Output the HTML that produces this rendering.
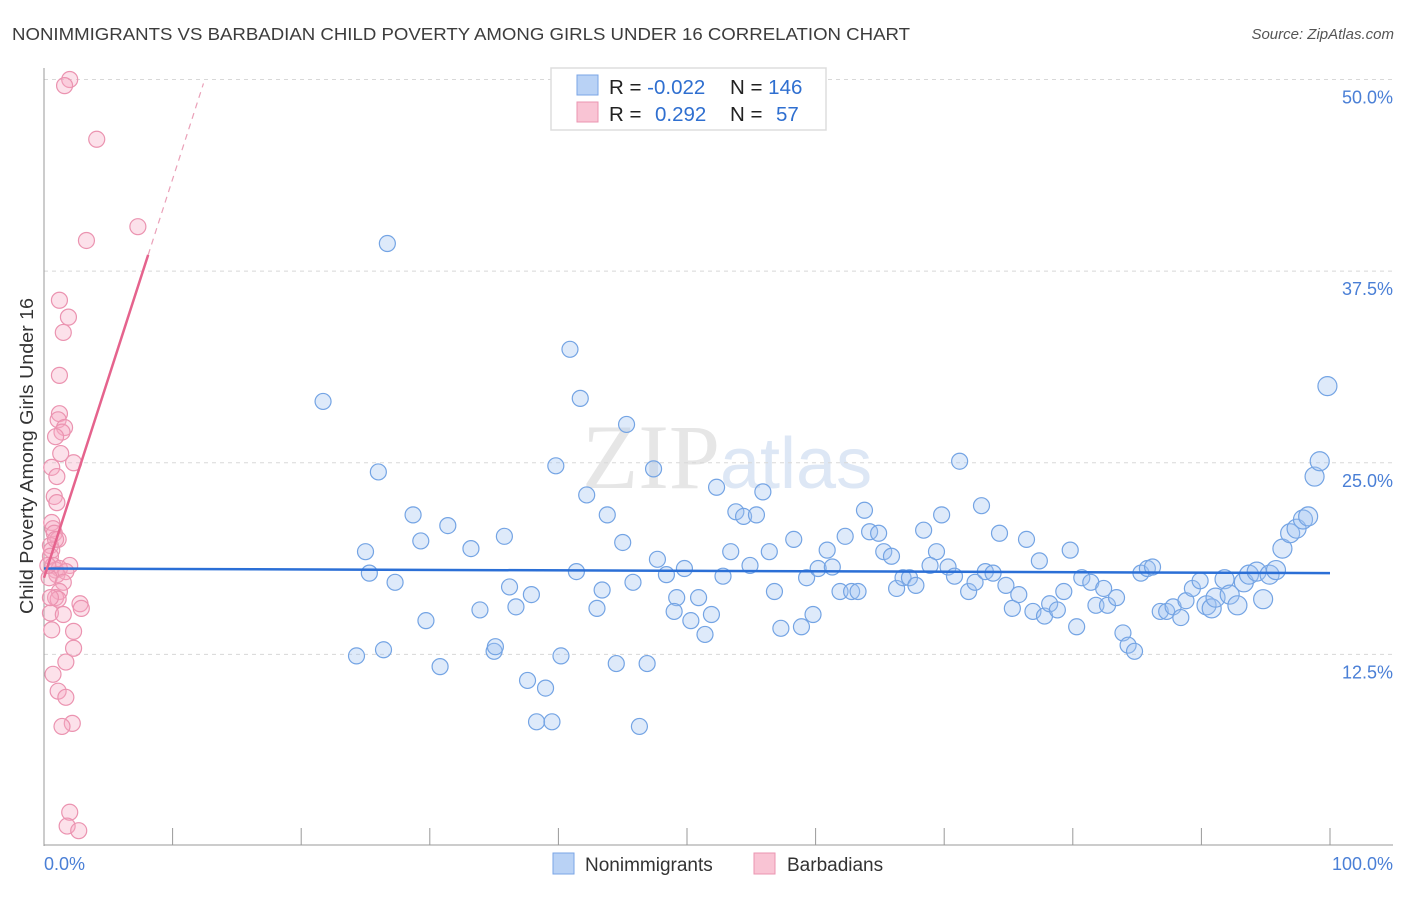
<!DOCTYPE html>
<html><head><meta charset="utf-8"><style>
body{margin:0;background:#fff;width:1406px;height:892px;overflow:hidden;font-family:"Liberation Sans",sans-serif}
</style></head><body>
<svg width="1406" height="892" xmlns="http://www.w3.org/2000/svg">
<text x="12" y="40" font-size="17.5" fill="#3c3c3c" textLength="898" lengthAdjust="spacingAndGlyphs">NONIMMIGRANTS VS BARBADIAN CHILD POVERTY AMONG GIRLS UNDER 16 CORRELATION CHART</text>
<text x="1394" y="39" font-size="15" fill="#555" font-style="italic" text-anchor="end">Source: ZipAtlas.com</text>
<text x="720" y="488" font-size="92" fill="#e6e6e6" text-anchor="end" font-family="Liberation Serif">ZIP</text>
<text x="720" y="488" font-size="72" fill="#dde7f5">atlas</text>
<g id="grid"></g>
<line x1="44" y1="68" x2="44" y2="846" stroke="#999"/>
<line x1="44" y1="845" x2="1393" y2="845" stroke="#999"/>
<g id="ticks"></g>
<g id="pts"></g>
<g id="trends"></g>
<text x="33" y="456" font-size="18" fill="#333" text-anchor="middle" textLength="316" lengthAdjust="spacingAndGlyphs" transform="rotate(-90 33 456)">Child Poverty Among Girls Under 16</text>
<text x="44" y="870" font-size="18" fill="#4a7fd6">0.0%</text>
<text x="1393" y="870" font-size="18" fill="#4a7fd6" text-anchor="end">100.0%</text>
<g>
<rect x="551" y="68" width="275" height="62" fill="#fff" stroke="#ddd" stroke-width="1.5"/>
<rect x="577" y="75" width="21" height="20" fill="#b9d2f5" stroke="#7aa5e6"/>
<rect x="577" y="102" width="21" height="20" fill="#f9c4d4" stroke="#eb95b1"/>
<text x="609" y="94" font-size="20.5" fill="#222">R = <tspan fill="#2f6fd0">-0.022</tspan></text>
<text x="730" y="94" font-size="20.5" fill="#222">N = <tspan fill="#2f6fd0">146</tspan></text>
<text x="609" y="121" font-size="20.5" fill="#222">R = </text>
<text x="655" y="121" font-size="20.5" fill="#2f6fd0">0.292</text>
<text x="730" y="121" font-size="20.5" fill="#222">N = </text>
<text x="776" y="121" font-size="20.5" fill="#2f6fd0">57</text>
</g>
<g>
<rect x="553" y="853" width="21" height="21" fill="#b9d2f5" stroke="#7aa5e6"/>
<text x="585" y="871" font-size="19" fill="#333">Nonimmigrants</text>
<rect x="754" y="853" width="21" height="21" fill="#f9c4d4" stroke="#eb95b1"/>
<text x="787" y="871" font-size="19" fill="#333">Barbadians</text>
</g>
</svg>
<script>
const yTicks=[12.5,25,37.5,50];
const yTickLabels=["12.5%","25.0%","37.5%","50.0%"];
const xTicks=[0,10,20,30,40,50,60,70,80,90,100];
const blueX=[26.7,21.7,40.9,41.7,45.3,26.0,39.8,47.4,42.2,52.3,55.9,28.7,31.4,29.3,25.0,33.2,35.8,43.8,45.0,53.8,54.4,55.4,63.8,58.3,53.4,56.4,60.9,62.3,64.2,64.9,65.3,65.9,68.4,69.8,71.2,72.9,74.3,69.4,76.4,79.8,77.4,25.3,27.3,29.7,33.9,36.2,36.7,37.9,41.4,43.0,43.4,45.8,47.7,48.4,49.2,49.8,49.0,50.3,50.9,51.4,51.9,52.8,54.9,56.8,57.3,58.9,59.3,59.8,60.2,61.3,61.9,62.8,63.3,66.3,66.8,67.3,67.8,68.9,70.3,70.8,71.9,72.4,73.2,73.8,74.8,75.3,75.8,76.9,77.8,78.2,78.8,79.3,80.3,80.7,81.4,81.8,82.4,82.7,83.4,83.9,84.3,84.8,85.3,85.8,86.2,86.8,87.3,87.8,88.4,88.8,89.3,89.9,90.4,90.8,91.1,91.8,92.2,92.8,93.3,93.7,94.3,94.8,95.3,95.8,96.3,96.9,97.4,97.9,98.3,98.8,99.2,99.8,24.3,26.4,30.8,35.0,35.1,37.6,39.0,40.2,44.5,46.9,38.3,39.5,46.3];
const blueY=[39.3,29.0,32.4,29.2,27.5,24.4,24.8,24.6,22.9,23.4,23.1,21.6,20.9,19.9,19.2,19.4,20.2,21.6,19.8,21.8,21.5,21.6,21.9,20.0,19.2,19.2,19.3,20.2,20.5,20.4,19.2,18.9,20.6,21.6,25.1,22.2,20.4,19.2,20.0,19.3,18.6,17.8,17.2,14.7,15.4,16.9,15.6,16.4,17.9,15.5,16.7,17.2,18.7,17.7,16.2,18.1,15.3,14.7,16.2,13.8,15.1,17.6,18.3,16.6,14.2,14.3,17.5,15.1,18.1,18.2,16.6,16.6,16.6,16.8,17.5,17.5,17.0,18.3,18.2,17.6,16.6,17.2,17.9,17.8,17.0,15.5,16.4,15.3,15.0,15.8,15.4,16.6,14.3,17.5,17.2,15.7,16.8,15.7,16.2,13.9,13.1,12.7,17.8,18.1,18.2,15.3,15.3,15.6,14.9,16.0,16.8,17.3,15.7,15.5,16.2,17.4,16.4,15.7,17.2,17.7,17.9,16.1,17.7,18.0,19.4,20.4,20.7,21.3,21.5,24.1,25.1,30.0,12.4,12.8,11.7,12.7,13.0,10.8,10.3,12.4,11.9,11.9,8.1,8.1,7.8];
const pinkX=[2.0,1.6,4.1,7.3,3.3,1.2,1.9,1.5,1.2,1.2,1.1,1.6,1.4,0.9,1.3,2.3,0.6,1.0,0.8,1.0,0.6,0.7,0.8,1.1,0.5,0.6,0.5,0.7,2.0,0.9,1.2,1.0,0.4,1.7,1.5,1.2,0.9,2.8,2.9,0.5,1.5,1.1,2.3,0.6,2.3,1.7,0.7,1.1,1.7,2.2,1.4,2.0,1.8,2.7,0.5,0.3,0.9];
const pinkY=[50.0,49.6,46.1,40.4,39.5,35.6,34.5,33.5,30.7,28.2,27.8,27.3,27.0,26.7,25.6,25.0,24.7,24.1,22.8,22.4,21.1,20.7,20.4,20.0,19.6,19.3,18.9,18.3,18.3,18.0,18.1,17.7,17.5,17.9,17.2,16.6,16.2,15.8,15.5,15.2,15.1,16.1,14.0,14.1,12.9,12.0,11.2,10.1,9.7,8.0,7.8,2.2,1.3,1.0,16.2,18.3,20.0];
const blueTrend=[18.1,17.8];
const pinkIntercept=17.5, pinkSlope=2.6, pinkSolidEnd=8.1, pinkDashEnd=12.4;
const NS='http://www.w3.org/2000/svg';
const X=v=>44+v*12.86, Y=v=>846-v*15.33;
function mk(t,a,p){const e=document.createElementNS(NS,t);for(const k in a)e.setAttribute(k,a[k]);p.appendChild(e);return e;}
const grid=document.getElementById('grid');
yTicks.forEach((t,i)=>{
 const l=mk('line',{x1:44,x2:1393,y1:Y(t),y2:Y(t),stroke:'#d8d8d8','stroke-dasharray':'4 4'},grid);
 
 
 const tx=mk('text',{x:1393,y:Y(t)+24,'font-size':18,fill:'#4a7fd6','text-anchor':'end'},grid);
 tx.textContent=yTickLabels[i];
 
 
});
const ticks=document.getElementById('ticks');
xTicks.forEach(t=>{
 const l=mk('line',{x1:X(t),x2:X(t),y1:828,y2:845,stroke:'#999'},ticks);
 
 
});
const pts=document.getElementById('pts');
blueX.forEach((x,i)=>{
 const c=mk('circle',{cx:X(x),cy:Y(blueY[i]),r:x>90?9.5:8,fill:'rgba(160,196,240,0.35)',stroke:'#74a4e4','stroke-width':1.2},pts);
 
 
});
pinkX.forEach((x,i)=>{
 const c=mk('circle',{cx:X(x),cy:Y(pinkY[i]),r:8,fill:'rgba(245,170,195,0.35)',stroke:'#eb93b0','stroke-width':1.2},pts);
 
 
});
const tr=document.getElementById('trends');
const b=mk('line',{x1:X(0),y1:Y(blueTrend[0]),x2:X(100),y2:Y(blueTrend[1]),stroke:'#2b6fd6','stroke-width':2.5},tr);


const p=mk('line',{x1:X(0),y1:Y(pinkIntercept),x2:X(pinkSolidEnd),y2:Y(pinkIntercept+pinkSlope*pinkSolidEnd),stroke:'#e5638d','stroke-width':2.5},tr);


const pd=mk('line',{x1:X(pinkSolidEnd),y1:Y(pinkIntercept+pinkSlope*pinkSolidEnd),x2:X(pinkDashEnd),y2:Y(pinkIntercept+pinkSlope*pinkDashEnd),stroke:'#eaa0b8','stroke-width':1.2,'stroke-dasharray':'6 5'},tr);


</script>
</body></html>
